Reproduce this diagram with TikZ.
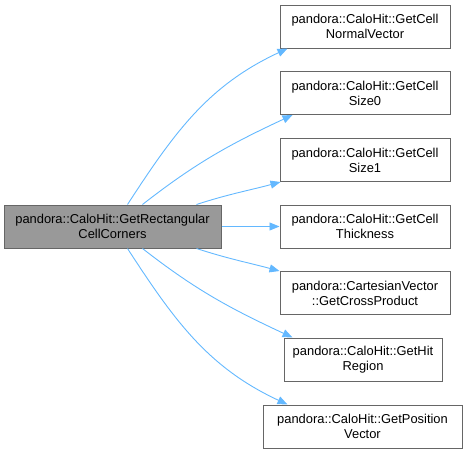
\documentclass[tikz,border=0pt]{standalone}
\usepackage{fontspec}
\setmainfont{Liberation Sans}
\usetikzlibrary{arrows.meta, calc}

\definecolor{edgeblue}{HTML}{63B8FF}
\definecolor{boxgray}{HTML}{999999}
\definecolor{boxline}{HTML}{666666}

\tikzset{
    fnbox/.style={draw=boxline, line width=1pt, fill=white, align=center,
        minimum width=170pt, minimum height=43pt, inner sep=0pt,
        font=\fontsize{12.9}{15}\selectfont},
    callee/.style={draw=edgeblue, line width=0.9pt,
        -{Triangle[length=10pt, width=8pt]}}
}

\begin{document}
\begin{tikzpicture}[x=1pt, y=1pt]

    % Page frame
    \useasboundingbox (0, 0) rectangle (467, -453);

    % Caller box on the left
    \node[fnbox, fill=boxgray, minimum width=217pt] (main) at (112.5, -226.5)
        {pandora::CaloHit::GetRectangular\\CellCorners};

    % Called functions on the right
    \node[fnbox] (normal) at (365, -26.5) {pandora::CaloHit::GetCell\\NormalVector};
    \node[fnbox] (sizezero) at (365, -93) {pandora::CaloHit::GetCell\\Size0};
    \node[fnbox] (sizeone) at (365, -160) {pandora::CaloHit::GetCell\\Size1};
    \node[fnbox] (thick) at (365, -226.5) {pandora::CaloHit::GetCell\\Thickness};
    \node[fnbox] (cross) at (365, -293) {pandora::CartesianVector\\::GetCrossProduct};
    \node[fnbox, minimum width=158pt] (region) at (363, -359.5) {pandora::CaloHit::GetHit\\Region};
    \node[fnbox, minimum width=199pt] (position) at (362.5, -426.5) {pandora::CaloHit::GetPosition\\Vector};

    % Calls above the middle
    \draw[callee] ($(main.north west)+(124, 0)$) to[out=57, in=205]
        ($(normal.south west)+(8, 0)$);
    \draw[callee] ($(main.north west)+(139, 0)$) to[out=38, in=205]
        ($(sizezero.south west)+(13, 0)$);
    \draw[callee] ($(main.north west)+(193, 0)$) to[out=18, in=195]
        ($(sizeone.south west)+(1, 0)$);

    % Straight call
    \draw[callee] (main.east) -- (thick.west);

    % Calls below the middle
    \draw[callee] ($(main.south west)+(193, 0)$) to[out=-18, in=165]
        (cross.north west);
    \draw[callee] ($(main.south west)+(139, 0)$) to[out=-38, in=155]
        ($(region.north west)+(9, 0)$);
    \draw[callee] ($(main.south west)+(124, 0)$) to[out=-57, in=155]
        ($(position.north west)+(25, 0)$);

\end{tikzpicture}
\end{document}
